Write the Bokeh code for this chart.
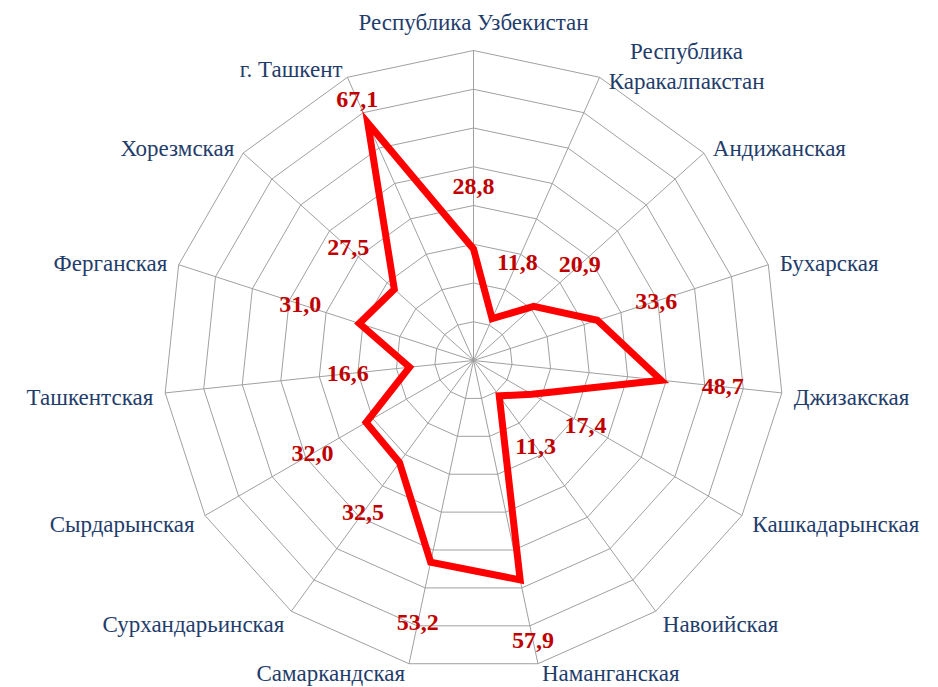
import numpy as np
from bokeh.plotting import figure
from bokeh.models import Range1d, ColumnDataSource
from bokeh.core.properties import value
from bokeh.embed import file_html
from bokeh.resources import INLINE

# ---------------- data ----------------
categories = [
    "Республика Узбекистан",
    "Республика\nКаракалпакстан",
    "Андижанская",
    "Бухарская",
    "Джизакская",
    "Кашкадарынская",
    "Навоийская",
    "Наманганская",
    "Самаркандская",
    "Сурхандарьинская",
    "Сырдарынская",
    "Ташкентская",
    "Ферганская",
    "Хорезмская",
    "г. Ташкент",
]
values = [28.8, 11.8, 20.9, 33.6, 48.7, 17.4, 11.3, 57.9, 53.2, 32.5, 32.0, 16.6, 31.0, 27.5, 67.1]
ring_values = [10, 20, 30, 40, 50, 60, 70, 80]

# ---------------- styling ----------------
W, H = 938, 687
SCALE = 3.875            # px per unit
CX, CY = 473, 360        # centre in figure px
GRID = "#a0a0a0"
RED = "#ff0000"
LABEL_RED = "#c00000"
NAVY = "#1f3d6b"
FONT = "Liberation Serif"

N = len(categories)
ang = np.deg2rad(np.arange(N) * 360.0 / N)
sa, ca = np.sin(ang), np.cos(ang)
rmax = max(ring_values)

p = figure(width=W, height=H, output_backend="svg", toolbar_location=None,
           x_range=Range1d(-CX / SCALE, (W - CX) / SCALE),
           y_range=Range1d(-(H - CY) / SCALE, CY / SCALE),
           min_border=0)
p.axis.visible = False
p.grid.visible = False
p.outline_line_color = None
p.background_fill_color = "white"

# rings
xs = [list(r * sa) + [r * sa[0]] for r in ring_values]
ys = [list(r * ca) + [r * ca[0]] for r in ring_values]
p.multi_line(xs, ys, line_color=GRID, line_width=1)
# spokes
p.segment(x0=np.zeros(N), y0=np.zeros(N), x1=rmax * sa, y1=rmax * ca,
          line_color=GRID, line_width=1)

# data polygon
vals = np.array(values)
p.patch(vals * sa, vals * ca, fill_color=None, line_color=RED, line_width=7,
        line_join="miter")

# data labels
lr = np.minimum(vals + 16, 73.8)
p.text(lr * sa, lr * ca, text=[f"{v:.1f}".replace(".", ",") for v in values],
       text_font=value(FONT), text_font_style="bold", text_font_size="24px",
       text_color=LABEL_RED, text_align="center", text_baseline="middle")

# category labels
aligns, xo, yo = [], [], []
for k in range(N):
    s, c = sa[k], ca[k]
    if abs(s) < 0.05:
        aligns.append("center"); xo.append(0); yo.append(-28)
    elif "\n" in categories[k]:
        aligns.append("center"); xo.append(87); yo.append(-11)
    elif c < -0.95:
        aligns.append("left" if s > 0 else "right")
        xo.append(4 * np.sign(s)); yo.append(10)
    else:
        aligns.append("left" if s > 0 else "right")
        xo.append(12 * s); yo.append(3 - 12 * c)
src = ColumnDataSource(dict(x=rmax * sa, y=rmax * ca, t=categories,
                            a=aligns, xo=xo, yo=yo))
p.text("x", "y", text="t", source=src, x_offset="xo", y_offset="yo",
       text_align="a", text_baseline="middle", text_font=value(FONT),
       text_font_size="23px", text_color=NAVY, text_line_height=1.2)

open("out.html", "w").write(file_html(p, INLINE))
